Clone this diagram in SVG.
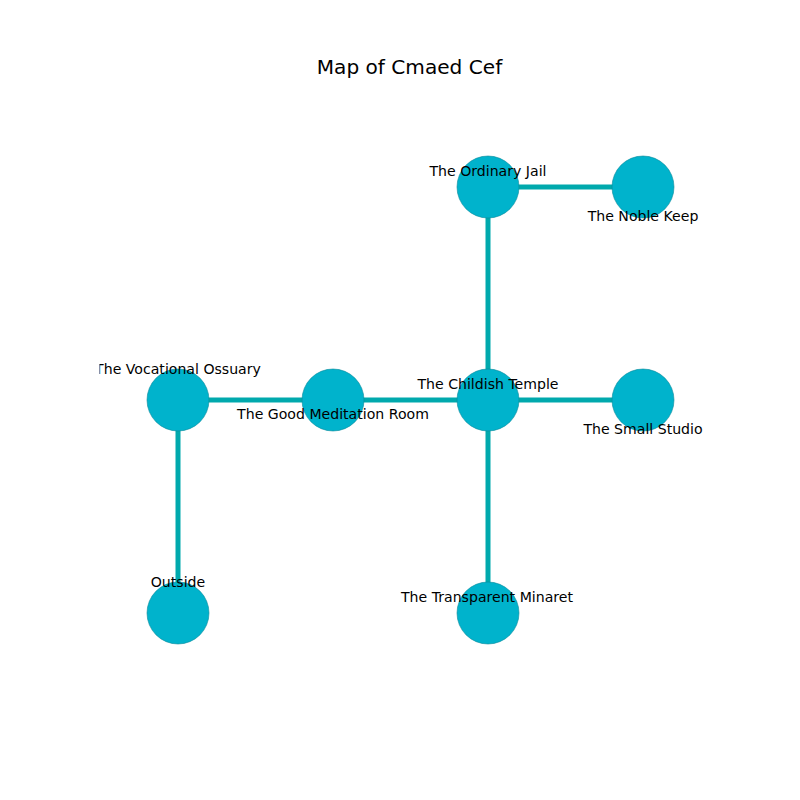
<svg xmlns="http://www.w3.org/2000/svg" width="800" height="800" viewBox="0 0 800 800">
<style>
.edge{stroke:#00a9ad;stroke-width:5;fill:none}
.node circle{fill:#00b3cc;stroke:#0a8a9a;stroke-width:0.6}
.lbl{font-family:"DejaVu Sans",sans-serif;font-size:14.1px;fill:#000;text-anchor:middle}
.title{font-family:"DejaVu Sans",sans-serif;font-size:20.1px;fill:#000;text-anchor:middle}
</style>
<defs><clipPath id="ax"><rect x="99.5" y="0" width="700" height="800"/></clipPath></defs>
<rect width="800" height="800" fill="#fff"/>
<text class="title" x="409.5" y="74">Map of Cmaed Cef</text>
<g id="connectors">
<line class="edge" x1="488" y1="187" x2="643" y2="187"/>
<line class="edge" x1="488" y1="187" x2="488" y2="400"/>
<line class="edge" x1="178" y1="400" x2="643" y2="400"/>
<line class="edge" x1="488" y1="400" x2="488" y2="613"/>
<line class="edge" x1="178" y1="400" x2="178" y2="613"/>
</g>
<g id="n-ordinary-jail" class="node"><circle cx="488" cy="187" r="31"/></g>
<g id="n-noble-keep" class="node"><circle cx="643" cy="187" r="31"/></g>
<g id="n-vocational-ossuary" class="node"><circle cx="178" cy="400" r="31"/></g>
<g id="n-good-meditation-room" class="node"><circle cx="333" cy="400" r="31"/></g>
<g id="n-childish-temple" class="node"><circle cx="488" cy="400" r="31"/></g>
<g id="n-small-studio" class="node"><circle cx="643" cy="400" r="31"/></g>
<g id="n-outside" class="node"><circle cx="178" cy="613" r="31"/></g>
<g id="n-transparent-minaret" class="node"><circle cx="488" cy="613" r="31"/></g>
<g id="labels" clip-path="url(#ax)">
<text class="lbl" x="488" y="176">The Ordinary Jail</text>
<text class="lbl" x="643" y="221">The Noble Keep</text>
<text class="lbl" x="178" y="374">The Vocational Ossuary</text>
<text class="lbl" x="333" y="419">The Good Meditation Room</text>
<text class="lbl" x="488" y="389">The Childish Temple</text>
<text class="lbl" x="643" y="434">The Small Studio</text>
<text class="lbl" x="178" y="587">Outside</text>
<text class="lbl" x="487" y="602">The Transparent Minaret</text>
</g>
</svg>
